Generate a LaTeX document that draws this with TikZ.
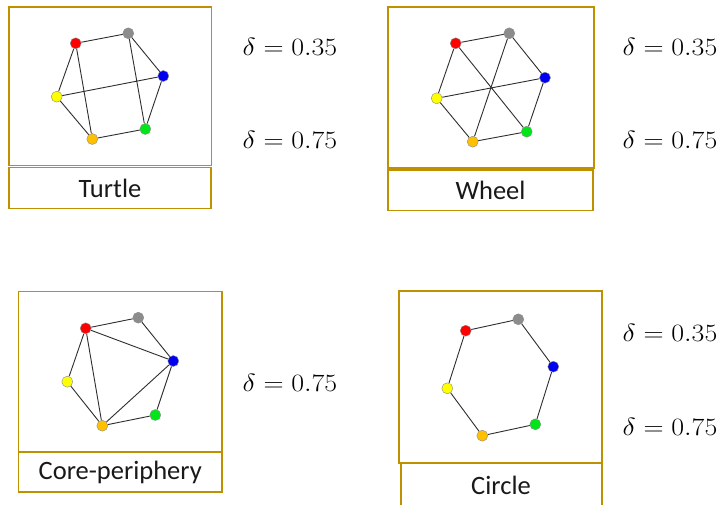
\documentclass[tikz,border=0pt]{standalone}
\usepackage{fontspec}
\usepackage{graphicx}
\setsansfont{Carlito}
\definecolor{gold}{HTML}{BF9000}
\definecolor{edgec}{HTML}{2E2E2E}
\definecolor{nred}{HTML}{FF0000}
\definecolor{ngray}{HTML}{8C8C8C}
\definecolor{nblue}{HTML}{0000F0}
\definecolor{nyellow}{HTML}{FFFF00}
\definecolor{norange}{HTML}{FFC000}
\definecolor{ngreen}{HTML}{00E619}
\tikzset{
  panel/.style={draw=gold, line width=1.6pt, fill=white, rectangle, inner sep=0pt},
  lab/.style={font=\sffamily\fontsize{26.5}{26.5}\selectfont, text=black!90},
  vtx/.style={circle, inner sep=0pt, minimum size=11pt, draw=black!45, line width=0.4pt},
  edg/.style={draw=edgec, line width=0.9pt},
  dlt/.style={font=\fontsize{25}{25}\selectfont, anchor=center}
}
\newcommand{\dval}[1]{\scalebox{1.12}[1]{$\delta = #1$}}
\begin{document}
\begin{tikzpicture}[x=1pt,y=-1pt]
\useasboundingbox (0,0) rectangle (723,504);
% ---------- Turtle ----------
\node[panel, minimum width=202.5pt, minimum height=158.5pt] (tbox) at (110.25,86.25) {};
\node[panel, minimum width=202pt, minimum height=41pt] (tlab) at (110,188) {};
\node[lab] (tlabt) at (110,188) {Turtle};
\node[vtx, fill=nred] (t1) at (75.7,43.3) {};
\node[vtx, fill=ngray] (t2) at (128.3,33.3) {};
\node[vtx, fill=nblue] (t3) at (163.3,76) {};
\node[vtx, fill=ngreen] (t4) at (145.3,129) {};
\node[vtx, fill=norange] (t5) at (92.3,139) {};
\node[vtx, fill=nyellow] (t6) at (56.7,96.7) {};
\path[edg] (t1) -- (t2) (t2) -- (t3) (t3) -- (t4) (t4) -- (t5) (t5) -- (t6) (t6) -- (t1)
  (t1) -- (t5) (t2) -- (t4) (t6) -- (t3);
\node[dlt] (td1) at (290,46.7) {\dval{0.35}};
\node[dlt] (td2) at (290,140) {\dval{0.75}};
% ---------- Wheel ----------
\node[panel, minimum width=206pt, minimum height=161pt] (wbox) at (491,87.5) {};
\node[panel, minimum width=205pt, minimum height=40.5pt] (wlab) at (490.5,190.25) {};
\node[lab] (wlabt) at (490.5,190) {Wheel};
\node[vtx, fill=nred] (w1) at (455.7,43.3) {};
\node[vtx, fill=ngray] (w2) at (509.3,33.3) {};
\node[vtx, fill=nblue] (w3) at (545,77.7) {};
\node[vtx, fill=ngreen] (w4) at (526.7,131.7) {};
\node[vtx, fill=norange] (w5) at (472.7,141.7) {};
\node[vtx, fill=nyellow] (w6) at (436.7,98.3) {};
\path[edg] (w1) -- (w2) (w2) -- (w3) (w3) -- (w4) (w4) -- (w5) (w5) -- (w6) (w6) -- (w1)
  (w1) -- (w4) (w2) -- (w5) (w6) -- (w3);
\node[dlt] (wd1) at (670,46.7) {\dval{0.35}};
\node[dlt] (wd2) at (670,140) {\dval{0.75}};
% ---------- Core-periphery ----------
\node[panel, minimum width=203.5pt, minimum height=160pt] (cbox) at (120.25,371.5) {};
\node[panel, minimum width=203.5pt, minimum height=40pt] (clab) at (120.25,471.7) {};
\node[lab] (clabt) at (120.25,472) {Core-periphery};
\node[vtx, fill=nred] (c1) at (85.7,328.3) {};
\node[vtx, fill=ngray] (c2) at (138.3,317.7) {};
\node[vtx, fill=nblue] (c3) at (173.3,361) {};
\node[vtx, fill=ngreen] (c4) at (155.3,415) {};
\node[vtx, fill=norange] (c5) at (102.3,425.7) {};
\node[vtx, fill=nyellow] (c6) at (67.3,381.7) {};
\path[edg] (c1) -- (c2) (c2) -- (c3) (c3) -- (c4) (c4) -- (c5) (c5) -- (c6) (c6) -- (c1)
  (c1) -- (c3) (c1) -- (c5) (c5) -- (c3);
\node[dlt] (cd1) at (290,383.3) {\dval{0.75}};
% ---------- Circle ----------
\node[panel, minimum width=203pt, minimum height=172pt] (obox) at (500.5,377.2) {};
\node[panel, minimum width=201pt, minimum height=46pt] (olab) at (501.5,486) {};
\node[lab] (olabt) at (501,485) {Circle};
\node[vtx, fill=nred] (o1) at (465.7,330.7) {};
\node[vtx, fill=ngray] (o2) at (518.3,319.3) {};
\node[vtx, fill=nblue] (o3) at (553.3,366.7) {};
\node[vtx, fill=ngreen] (o4) at (535.3,424.3) {};
\node[vtx, fill=norange] (o5) at (482.3,435.7) {};
\node[vtx, fill=nyellow] (o6) at (447.3,388.3) {};
\path[edg] (o1) -- (o2) (o2) -- (o3) (o3) -- (o4) (o4) -- (o5) (o5) -- (o6) (o6) -- (o1);
\node[dlt] (od1) at (670,333.3) {\dval{0.35}};
\node[dlt] (od2) at (670,426.7) {\dval{0.75}};
\end{tikzpicture}
\end{document}
